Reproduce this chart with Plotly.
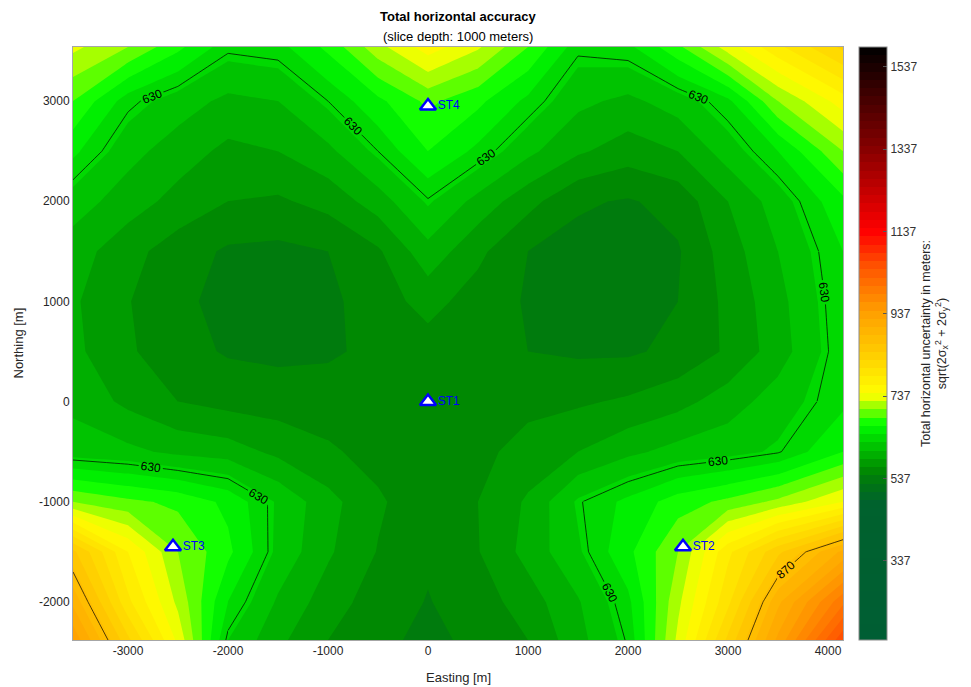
import plotly.graph_objects as go

# ---------------- data ----------------
easting = [-3550, -3000, -2500, -2000, -1500, -1000, -500, 0, 500, 1000, 1500, 2000, 2500, 3000, 3500, 4150]
northing = [-2380, -2000, -1500, -1000, -500, 0, 500, 1000, 1500, 2000, 2500, 3000, 3540]

# rows follow northing (bottom to top), columns follow easting
unc_m2380 = [940, 830, 740, 625, 590, 565, 548, 542, 548, 565, 598, 632, 730, 830, 930, 1060]
unc_m2000 = [900, 790, 720, 645, 602, 575, 555, 544, 555, 575, 603, 640, 720, 800, 900, 1000]
unc_m1500 = [850, 765, 705, 670, 620, 588, 564, 548, 564, 592, 622, 660, 705, 780, 840, 910]
unc_m1000 = [705, 690, 680, 660, 622, 592, 568, 552, 565, 588, 628, 650, 675, 690, 710, 745]
unc_m500 = [615, 610, 600, 595, 580, 568, 558, 555, 560, 572, 585, 600, 612, 618, 628, 665]
unc_0 = [600, 580, 565, 558, 556, 555, 555, 556, 558, 560, 562, 568, 578, 595, 615, 640]
unc_500 = [590, 568, 552, 543, 540, 542, 550, 556, 550, 545, 542, 542, 550, 568, 595, 640]
unc_1000 = [588, 566, 550, 538, 535, 540, 556, 572, 556, 543, 537, 537, 545, 570, 598, 642]
unc_1500 = [595, 572, 555, 542, 540, 545, 562, 598, 570, 545, 538, 536, 543, 575, 605, 645]
unc_2000 = [615, 595, 578, 565, 562, 572, 595, 628, 598, 572, 548, 543, 552, 585, 615, 660]
unc_2500 = [650, 612, 595, 580, 585, 600, 630, 665, 640, 610, 588, 575, 585, 615, 645, 705]
unc_3000 = [685, 635, 615, 600, 605, 630, 660, 690, 670, 640, 610, 600, 615, 640, 705, 755]
unc_3540 = [730, 705, 670, 634, 638, 670, 718, 755, 728, 685, 634, 640, 680, 735, 780, 830]
uncertainty = [unc_m2380, unc_m2000, unc_m1500, unc_m1000, unc_m500, unc_0, unc_500,
               unc_1000, unc_1500, unc_2000, unc_2500, unc_3000, unc_3540]

station_names = ["ST1", "ST2", "ST3", "ST4"]
station_e = [0, 2550, -2550, 0]
station_n = [0, -1450, -1450, 2950]

labeled_levels = [630, 870]

x_ticks = [-3000, -2000, -1000, 0, 1000, 2000, 3000, 4000]
x_ticktext = ["-3000", "-2000", "-1000", "0", "1000", "2000", "3000", "4000"]
y_ticks = [-2000, -1000, 0, 1000, 2000, 3000]
y_ticktext = ["-2000", "-1000", "0", "1000", "2000", "3000"]
cbar_ticks = [337, 537, 737, 937, 1137, 1337, 1537]

cmin, cmax = 145, 1585

# ---------------- styling ----------------
def pos(v):
    return (v - cmin) / (cmax - cmin)

colorscale = [
    [0.0, "rgb(0,94,52)"],
    [pos(480), "rgb(0,98,45)"],
    [pos(530), "rgb(0,120,15)"],
    [pos(560), "rgb(0,140,0)"],
    [pos(620), "rgb(0,200,0)"],
    [pos(670), "rgb(0,255,0)"],
    [pos(705), "rgb(130,255,0)"],
    [pos(740), "rgb(255,255,0)"],
    [pos(840), "rgb(255,205,0)"],
    [pos(940), "rgb(255,160,0)"],
    [pos(1050), "rgb(255,85,0)"],
    [pos(1137), "rgb(255,0,0)"],
    [pos(1337), "rgb(135,0,0)"],
    [1.0, "rgb(0,0,0)"],
]

FONT = "Liberation Sans, Arial, Helvetica, sans-serif"
L, R, T, B = 73, 128, 47, 47
W, H = 971, 687
plot_w = W - L - R
plot_h = H - T - B

fig = go.Figure()

fig.add_trace(go.Contour(
    x=easting, y=northing, z=uncertainty,
    colorscale=colorscale, zmin=cmin, zmax=cmax,
    contours=dict(coloring="fill", start=cmin, end=cmax, size=20, showlines=False),
    line=dict(width=0, smoothing=0),
    hoverinfo="skip",
    colorbar=dict(
        x=1 + (859 - (W - R)) / plot_w, xanchor="left", xpad=0,
        y=0.5, yanchor="middle", len=1.0, lenmode="fraction", ypad=0,
        thickness=28, outlinewidth=1, outlinecolor="#8c8c8c",
        tickvals=cbar_ticks, ticks="inside", ticklen=4, tickcolor="#555555",
        tickfont=dict(family=FONT, size=12, color="#333333"),
        title=dict(
            text="Total horizontal uncertainty in meters:<br>sqrt(2σ<sub>x</sub><sup>2</sup> + 2σ<sub>y</sub><sup>2</sup>)",
            side="right", font=dict(family=FONT, size=12.5, color="#262626"),
        ),
    ),
))

# labelled contour lines, drawn in blocks of the grid (column range, row range)
# so that each part of a line gets its own label
blocks = [
    ((0, 4), (8, 12)), ((4, 7), (8, 12)), ((7, 11), (8, 12)), ((11, 15), (8, 12)),
    ((11, 15), (5, 8)),
    ((0, 3), (0, 5)), ((3, 7), (0, 5)), ((7, 10), (0, 5)),
    ((10, 12), (0, 3)), ((10, 15), (3, 5)), ((12, 15), (0, 3)),
]
for (c0, c1), (r0, r1) in blocks:
    fig.add_trace(go.Contour(
        x=easting[c0:c1 + 1], y=northing[r0:r1 + 1],
        z=[row[c0:c1 + 1] for row in uncertainty[r0:r1 + 1]],
        contours=dict(coloring="none", start=labeled_levels[0], end=labeled_levels[1],
                      size=labeled_levels[1] - labeled_levels[0], showlabels=True,
                      labelfont=dict(family=FONT, size=12, color="black")),
        line=dict(color="black", width=0.7, smoothing=0),
        showscale=False, hoverinfo="skip",
    ))

fig.add_trace(go.Scatter(
    x=station_e, y=station_n, mode="markers+text",
    text=station_names, textposition="middle right",
    textfont=dict(family=FONT, size=12, color="rgb(0,0,255)"),
    marker=dict(symbol="triangle-up", size=14, color="white",
                line=dict(color="rgb(0,0,255)", width=2.5)),
    showlegend=False, hoverinfo="skip", cliponaxis=False,
))

axis_common = dict(showgrid=False, zeroline=False, showline=True, mirror=True,
                   linecolor="#a6a6a6", linewidth=1, ticks="",
                   tickfont=dict(family=FONT, size=12, color="#262626"))

fig.update_layout(
    width=W, height=H,
    margin=dict(l=L, r=R, t=T, b=B),
    paper_bgcolor="white", plot_bgcolor="white",
    showlegend=False,
    font=dict(family=FONT, color="#262626"),
    xaxis=dict(range=[easting[0], easting[-1]], tickvals=x_ticks, ticktext=x_ticktext, **axis_common),
    yaxis=dict(range=[northing[0], northing[-1]], tickvals=y_ticks, ticktext=y_ticktext, **axis_common),
    annotations=[
        dict(text="<b>Total horizontal accuracy</b>", xref="paper", yref="paper",
             x=0.5, y=1 + (T - 16) / plot_h, xanchor="center", yanchor="middle",
             showarrow=False, font=dict(family=FONT, size=13, color="black")),
        dict(text="(slice depth: 1000 meters)", xref="paper", yref="paper",
             x=0.5, y=1 + (T - 36) / plot_h, xanchor="center", yanchor="middle",
             showarrow=False, font=dict(family=FONT, size=13, color="black")),
        dict(text="Easting [m]", xref="paper", yref="paper",
             x=0.5, y=-(677 - (H - B)) / plot_h, xanchor="center", yanchor="middle",
             showarrow=False, font=dict(family=FONT, size=13, color="#262626")),
        dict(text="Northing [m]", xref="paper", yref="paper",
             x=-(L - 18) / plot_w, y=0.5, xanchor="center", yanchor="middle", textangle=-90,
             showarrow=False, font=dict(family=FONT, size=13, color="#262626")),
    ],
)

fig.write_html("out.html", config={"displayModeBar": False},
               post_script="document.body.style.margin='0';document.body.style.overflow='hidden';")
